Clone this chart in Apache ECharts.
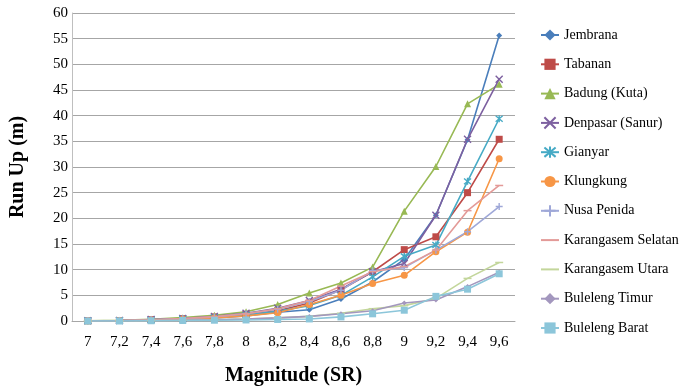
<!DOCTYPE html>
<html>
<head>
<meta charset="utf-8">
<script src="https://cdn.jsdelivr.net/npm/echarts@6/dist/echarts.min.js"></script>
<style>html,body{margin:0;padding:0;background:#fff}#c{width:680px;height:390px}</style>
</head>
<body>
<div id="c"></div>
<script>
var categories = ['7','7,2','7,4','7,6','7,8','8','8,2','8,4','8,6','8,8','9','9,2','9,4','9,6'];
var seriesNames = ['Jembrana','Tabanan','Badung (Kuta)','Denpasar (Sanur)','Gianyar','Klungkung','Nusa Penida','Karangasem Selatan','Karangasem Utara','Buleleng Timur','Buleleng Barat'];
var jembrana = [0.05,0.1,0.2,0.35,0.6,1.0,1.7,2.2,4.3,7.6,12.0,20.6,35.3,55.6];
var tabanan = [0.05,0.1,0.25,0.45,0.8,1.3,2.0,3.5,6.1,9.6,13.9,16.4,25.0,35.4];
var badung = [0.05,0.15,0.35,0.65,1.1,1.8,3.2,5.45,7.4,10.5,21.4,30.1,42.3,46.1];
var denpasar = [0.05,0.1,0.3,0.5,0.9,1.5,2.5,4.0,6.2,9.6,11.2,20.6,35.4,47.1];
var gianyar = [0.05,0.1,0.2,0.4,0.7,1.2,1.9,3.0,5.0,8.6,12.6,14.8,27.2,39.4];
var klungkung = [0.05,0.1,0.2,0.35,0.6,1.0,1.6,3.2,5.0,7.3,8.9,13.5,17.3,31.6];
var nusaPenida = [0.05,0.1,0.25,0.45,0.8,1.4,2.3,3.8,6.0,9.8,10.4,13.8,17.4,22.3];
var karangasemSelatan = [0.05,0.1,0.25,0.5,0.85,1.4,2.4,4.0,6.8,9.6,10.6,13.8,21.5,26.4];
var karangasemUtara = [0,0.05,0.1,0.15,0.25,0.4,0.6,0.9,1.5,2.4,3.0,4.4,8.3,11.4];
var bulelengTimur = [0,0.05,0.1,0.15,0.25,0.4,0.6,0.9,1.4,2.0,3.5,4.1,6.7,9.5];
var bulelengBarat = [0,0,0.05,0.1,0.15,0.2,0.3,0.4,0.8,1.4,2.1,4.8,6.2,9.2];
var yTicks = [0,5,10,15,20,25,30,35,40,45,50,55,60];

var allData = [jembrana,tabanan,badung,denpasar,gianyar,klungkung,nusaPenida,karangasemSelatan,karangasemUtara,bulelengTimur,bulelengBarat];
var colors = ['#4A7EBB','#BE4B48','#98B954','#7D60A0','#46AAC5','#F79646','#9FA8D8','#E39A98','#C3D69B','#A397BE','#8CC6DA'];
var crossPath = 'path://M0,0L10,10M10,0L0,10';
var starPath = 'path://M0,0L10,10M10,0L0,10M5,-1L5,11';
var plusPath = 'path://M0,5L10,5M5,0L5,10';
var dashPath = 'path://M0,0L10,0L10,1L0,1Z';
var symbols = ['diamond','rect','triangle',crossPath,starPath,'circle',plusPath,dashPath,dashPath,'diamond','rect'];
var sizes = [6,7,7,7,7,7,7,[8,1.5],[8,1.5],5,7];
var strokeSym = [false,false,false,true,true,false,true,false,false,false,false];
var plainLegend = [false,false,false,false,false,false,false,true,true,false,false];

var series = seriesNames.map(function(n,i){
  var isStroke = strokeSym[i];
  return {
    name:n, type:'line', data:allData[i],
    symbol:symbols[i], symbolSize:sizes[i],
    lineStyle:{color:colors[i], width:1.6},
    itemStyle:{color: isStroke ? 'rgba(0,0,0,0)' : colors[i], borderColor:colors[i], borderWidth: isStroke?1.4:0},
    emphasis:{disabled:true},
    animation:false
  };
});

var legendData = seriesNames.map(function(n,i){
  return plainLegend[i] ? {name:n, itemStyle:{color:'rgba(0,0,0,0)', borderWidth:0, opacity:0}} : {name:n};
});

var chart = echarts.init(document.getElementById('c'));
chart.setOption({
  animation:false,
  color:colors,
  grid:{left:72,right:165,top:13,bottom:69,outerBoundsMode:'none',containLabel:false},
  xAxis:{
    type:'category', data:categories, boundaryGap:true,
    axisLine:{show:true, lineStyle:{color:'#a6a6a6'}},
    axisTick:{show:false},
    axisLabel:{color:'#000', fontFamily:'Liberation Serif', fontSize:15, margin:14},
    name:'Magnitude (SR)', nameLocation:'middle', nameGap:45,
    nameTextStyle:{color:'#000', fontFamily:'Liberation Serif', fontWeight:'bold', fontSize:20}
  },
  yAxis:{
    type:'value', min:yTicks[0], max:yTicks[yTicks.length-1], interval:5,
    axisLine:{show:true, lineStyle:{color:'#bfbfbf'}},
    axisTick:{show:false},
    splitLine:{lineStyle:{color:'#a6a6a6', width:1}},
    axisLabel:{color:'#000', fontFamily:'Liberation Serif', fontSize:15, margin:4},
    name:'Run Up (m)', nameLocation:'middle', nameGap:44, nameRotate:90,
    nameTextStyle:{color:'#000', fontFamily:'Liberation Serif', fontWeight:'bold', fontSize:20}
  },
  legend:{
    orient:'vertical', left:535, top:23, itemWidth:18, itemHeight:14, itemGap:15.3,
    textStyle:{color:'#000', fontFamily:'Liberation Serif', fontSize:14},
    data:legendData
  },
  series:series
});
</script>
</body>
</html>
